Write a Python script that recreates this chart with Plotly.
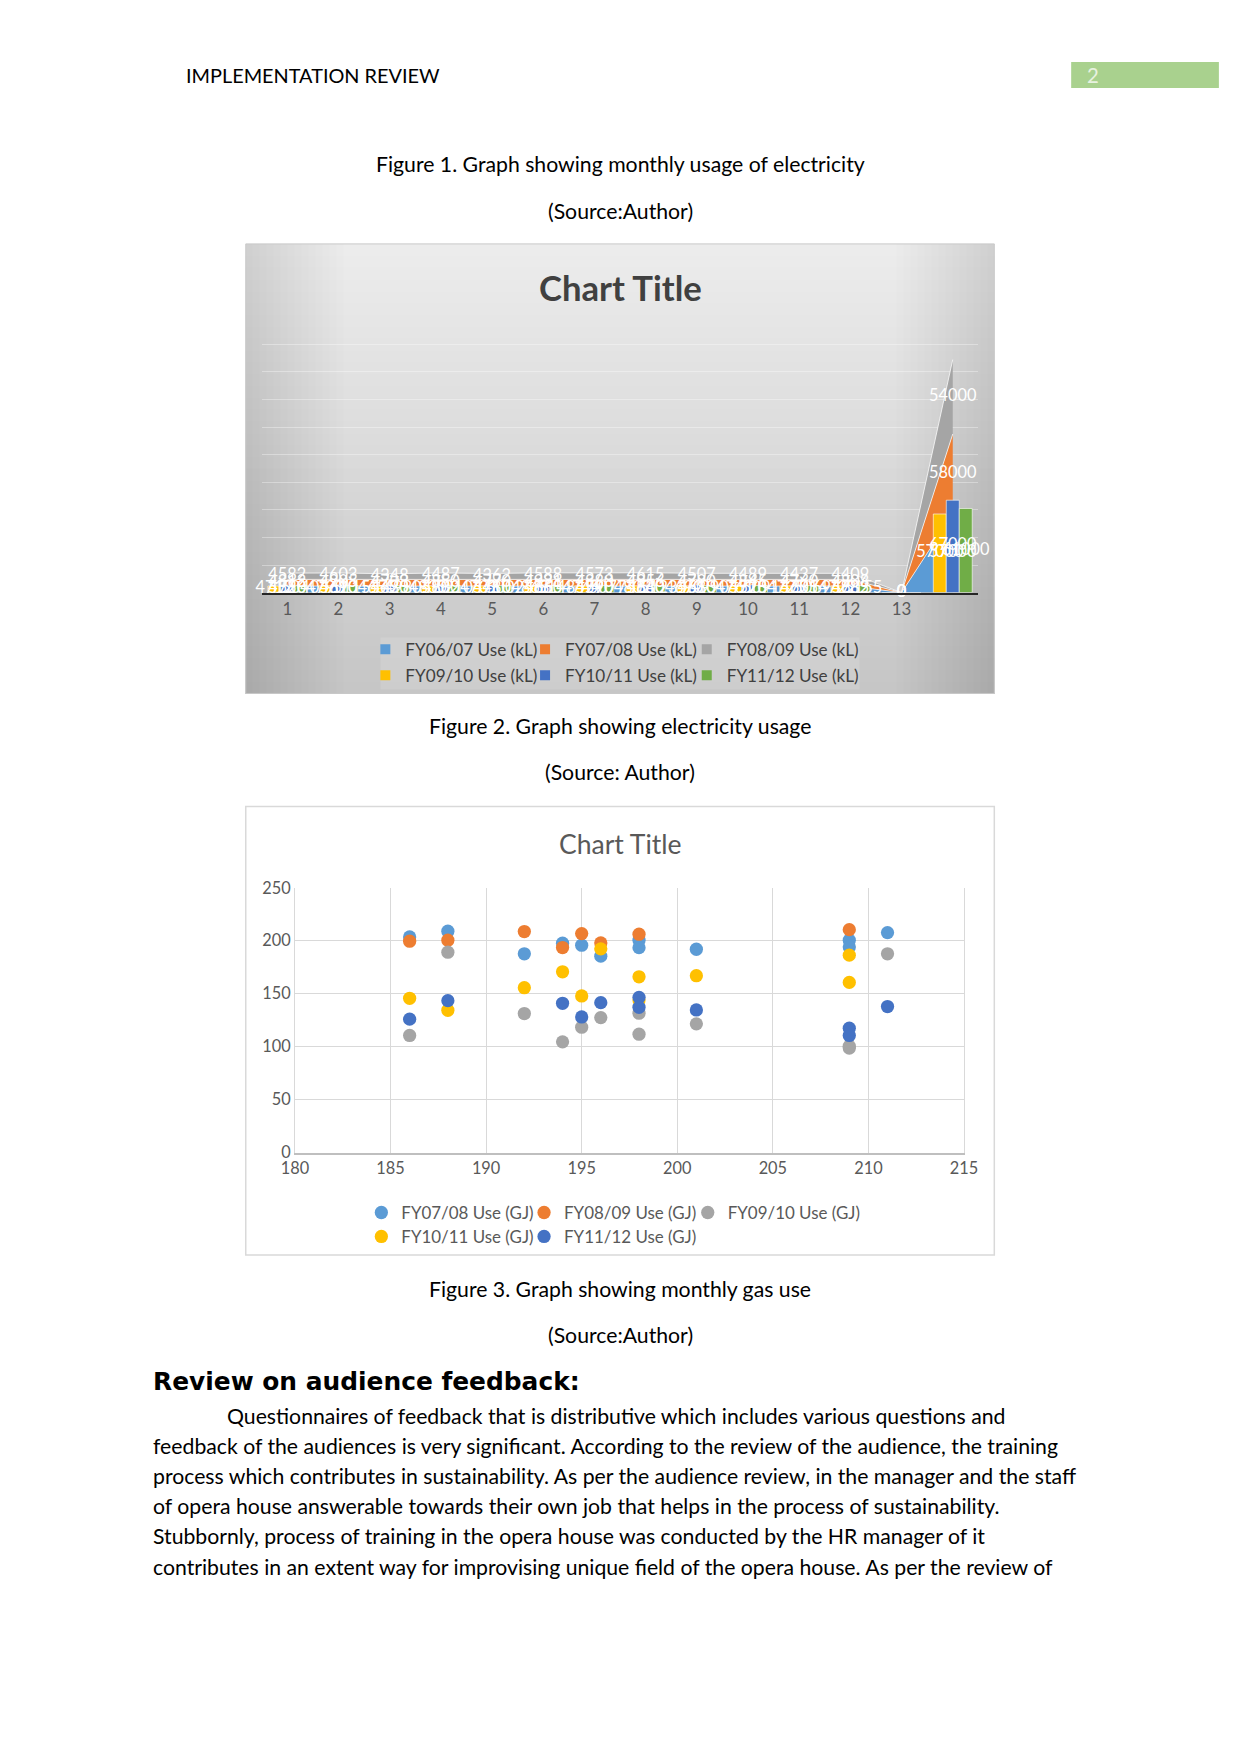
import plotly.graph_objects as go

# page is 1241x1754; the figure sits inside the default 8px body margin
PAGE_W, PAGE_H = 1241, 1754
OFF = 8
W, H = PAGE_W - 2 * OFF, PAGE_H - 2 * OFF
# measured capture mapping (image = a + s * page); positions are pre-compensated
SX, AX = 0.979, 13.0
SY, AY = 0.990, 9.96
FS = 1.02  # size compensation

# ---------------- Figure 2 data: electricity use (kL) ----------------
elec_categories = list(range(1, 15))
elec_tick_labels = ["1", "2", "3", "4", "5", "6", "7", "8", "9", "10", "11", "12", "13", ""]

fy0607_kl = [4750, 4690, 4620, 4880, 4710, 4860, 4790, 4830, 4680, 4720, 4735, 4735, 0, 57000]
fy0708_kl = [4812, 4905, 4703, 4850, 4770, 4921, 4880, 4956, 4790, 4845, 4760, 4808, 0, 58000]
fy0809_kl = [4582, 4603, 4348, 4487, 4362, 4588, 4573, 4615, 4507, 4489, 4437, 4409, 0, 54000]
fy0910_kl = [4712, 4790, 4655, 4830, 4701, 4868, 4744, 4802, 4690, 4761, 4725, 4722, 0, 57000]
fy1011_kl = [5520, 5610, 5435, 5702, 5480, 5655, 5590, 5640, 5510, 5575, 5601, 5682, 0, 67000]
fy1112_kl = [5040, 5115, 4980, 5210, 5002, 5148, 5077, 5123, 4990, 5091, 5069, 5155, 0, 61000]

area_names = ["FY06/07 Use (kL)", "FY07/08 Use (kL)", "FY08/09 Use (kL)"]
bar_names = ["FY09/10 Use (kL)", "FY10/11 Use (kL)", "FY11/12 Use (kL)"]

# ---------------- Figure 3 data: gas use (GJ) ----------------
gas_x = [186, 188, 192, 194, 195, 196, 198, 198, 201, 209, 209, 211]
fy0708_gj = [203.6, 209.0, 187.7, 197.7, 195.8, 185.5, 200.5, 193.5, 192.0, 200.5, 194.2, 207.7]
fy0809_gj = [199.6, 200.5, 208.7, 193.6, 206.8, 198.0, 206.2, None, None, 210.5, None, None]
fy0910_gj = [110.6, 189.2, 131.3, 104.6, 118.4, 127.5, 131.6, 111.8, 121.6, 98.7, 100.5, 187.7]
fy1011_gj = [145.7, 134.4, 155.7, 170.7, 147.9, 192.4, 166.0, 144.1, 167.0, 186.4, 160.7, None]
fy1112_gj = [126.0, 143.5, None, 141.0, 128.1, 141.6, 146.6, 137.2, 134.7, 117.5, 110.6, 137.9]
gas_names = ["FY07/08 Use (GJ)", "FY08/09 Use (GJ)", "FY09/10 Use (GJ)",
             "FY10/11 Use (GJ)", "FY11/12 Use (GJ)"]

# ---------------- styles ----------------
BLUE, ORANGE, GRAY, YELLOW, DBLUE, GREEN = "#5b9bd5", "#ed7d31", "#a5a5a5", "#ffc000", "#4472c4", "#70ad47"
FONT = "Lato"


def px(x):
    return ((x - AX) / SX - OFF) / W


def py(y):
    return 1 - ((y - AY) / SY - OFF) / H


def fs(s):
    return round(s * FS, 2)


fig = go.Figure()

# ---- chart 1: stacked areas (x / y) ----
area_vals = [fy0607_kl, fy0708_kl, fy0809_kl]
for name, vals, col in zip(area_names, area_vals, [BLUE, ORANGE, GRAY]):
    fig.add_trace(go.Scatter(
        x=elec_categories, y=vals, name=name, mode="lines", stackgroup="kl",
        line=dict(color="rgba(255,255,255,0.75)", width=1), fillcolor=col,
        xaxis="x", yaxis="y", showlegend=False, hoverinfo="skip"))

# ---- chart 1: clustered bars (x2 / y2, overlaid so they sit above the areas) ----
bar_vals = [fy0910_kl, fy1011_kl, fy1112_kl]
for name, vals, col in zip(bar_names, bar_vals, [YELLOW, DBLUE, GREEN]):
    fig.add_trace(go.Bar(
        x=elec_categories, y=vals, name=name,
        marker=dict(color=col, line=dict(color="rgba(255,255,255,0.6)", width=1)),
        xaxis="x2", yaxis="y2", showlegend=False, hoverinfo="skip"))

# ---- chart 1 data labels ----
BARGAP = 0.24
bar_w = (1 - BARGAP) / 3
label_font = dict(family=FONT, size=fs(16), color="white")
cum = [0] * len(elec_categories)
for vals in area_vals:
    mids = [c + v / 2 for c, v in zip(cum, vals)]
    fig.add_trace(go.Scatter(
        x=elec_categories, y=mids, text=[str(v) for v in vals], mode="text",
        textfont=label_font, xaxis="x2", yaxis="y2", showlegend=False,
        hoverinfo="skip", cliponaxis=False))
    cum = [c + v for c, v in zip(cum, vals)]
for i, vals in enumerate(bar_vals):
    off = (i - 1) * bar_w
    fig.add_trace(go.Scatter(
        x=[c + off for c in elec_categories], y=[v / 2 for v in vals],
        text=[str(v) if v else "" for v in vals], mode="text",
        textfont=label_font, xaxis="x2", yaxis="y2", showlegend=False,
        hoverinfo="skip", cliponaxis=False))

# ---- legends: one legend box per entry so the 3-column grid matches ----
legend_layout = {}
col_text_1 = [404, 564, 726]
rows_1 = [650, 676]
col_text_2 = [400, 563, 727]
rows_2 = [1214, 1238]
lg = 0


def legend_key(n):
    return "legend" if n == 1 else f"legend{n}"


for j, (name, col) in enumerate(zip(area_names + bar_names, [BLUE, ORANGE, GRAY, YELLOW, DBLUE, GREEN])):
    lg += 1
    key = legend_key(lg)
    fig.add_trace(go.Scatter(
        x=[None], y=[None], name=name, mode="markers",
        marker=dict(symbol="square", size=10, color=col),
        xaxis="x2", yaxis="y2", legend=key))
    legend_layout[key] = dict(x=px(col_text_1[j % 3]) - 40 / W, y=py(rows_1[j // 3]),
                              font=dict(family=FONT, size=fs(16.8), color="#404040"))

# ---- chart 2: scatter ----
gas_vals = [fy0708_gj, fy0809_gj, fy0910_gj, fy1011_gj, fy1112_gj]
for j, (name, vals, col) in enumerate(zip(gas_names, gas_vals, [BLUE, ORANGE, GRAY, YELLOW, DBLUE])):
    lg += 1
    key = legend_key(lg)
    fig.add_trace(go.Scatter(
        x=gas_x, y=vals, name=name, mode="markers",
        marker=dict(symbol="circle", size=fs(13), color=col),
        xaxis="x3", yaxis="y3", legend=key))
    legend_layout[key] = dict(x=px(col_text_2[j % 3]) - 40 / W, y=py(rows_2[j // 3]),
                              font=dict(family=FONT, size=fs(16.6), color="#595959"))

for key, d in legend_layout.items():
    d.update(orientation="h", xanchor="left", yanchor="middle", bgcolor="rgba(0,0,0,0)",
             borderwidth=0, traceorder="normal", itemclick=False, itemdoubleclick=False)

# ---------------- background shapes ----------------
shapes = []
c1x0, c1x1, c1y0, c1y1 = 245, 995, 244, 694
# vertical gradient: nested rects (each runs to the bottom) so no seams appear
nb = 38
for k in range(nb):
    t = k / (nb - 1)
    g = int(round(236 - 38 * t))
    shapes.append(dict(type="rect", xref="paper", yref="paper", layer="below",
                       x0=px(c1x0), x1=px(c1x1), y0=py(c1y1),
                       y1=py(c1y0 + (c1y1 - c1y0) * k / nb),
                       fillcolor=f"rgb({g},{g},{g})", line=dict(width=0)))
# side vignettes: nested translucent strips
ns = 14
w = 7
for k in range(ns):
    for xa0, xa1 in ((c1x0, c1x0 + (k + 1) * w), (c1x1 - (k + 1) * w, c1x1)):
        shapes.append(dict(type="rect", xref="paper", yref="paper", layer="below",
                           x0=px(xa0), x1=px(xa1), y0=py(c1y1), y1=py(c1y0),
                           fillcolor="rgba(0,0,0,0.006)", line=dict(width=0)))
shapes.append(dict(type="rect", xref="paper", yref="paper", layer="below",
                   x0=px(c1x0), x1=px(c1x1), y0=py(c1y1), y1=py(c1y0),
                   fillcolor="rgba(0,0,0,0)", line=dict(color="#c8c8c8", width=1)))
shapes.append(dict(type="rect", xref="paper", yref="paper", layer="below",
                   x0=px(380), x1=px(860), y0=py(690), y1=py(638),
                   fillcolor="rgba(255,255,255,0.13)", line=dict(width=0)))
shapes.append(dict(type="rect", xref="paper", yref="paper", layer="below",
                   x0=px(245), x1=px(995), y0=py(1256), y1=py(807),
                   fillcolor="white", line=dict(color="#d9d9d9", width=1.5)))
shapes.append(dict(type="rect", xref="paper", yref="paper", layer="below",
                   x0=px(1072), x1=px(1220), y0=py(88), y1=py(62),
                   fillcolor="#a9d18e", line=dict(width=0)))

# ---------------- page text ----------------
ann = []
BODY = 20.8


def text(x, y, s, size=BODY, color="#000000", anchor="center", family=FONT, bold=False):
    ann.append(dict(x=px(x), y=py(y), xref="paper", yref="paper", text=(f"<b>{s}</b>" if bold else s),
                    showarrow=False, xanchor=anchor, yanchor="middle", borderpad=0,
                    font=dict(family=family, size=fs(size), color=color)))


text(184, 75, "IMPLEMENTATION REVIEW", size=19.5, anchor="left")
text(1087, 75, "2", size=20, color="#e8f2e0", anchor="left")
text(620, 164, "Figure 1. Graph showing monthly usage of electricity")
text(620, 211, "(Source:Author)")
text(620, 288, "Chart Title", size=34, color="#404040", bold=True)
text(620, 727, "Figure 2. Graph showing electricity usage")
text(620, 773, "(Source: Author)")
text(620, 845, "Chart Title", size=26, color="#595959")
text(620, 1290, "Figure 3. Graph showing monthly gas use")
text(620, 1336, "(Source:Author)")
text(151, 1383, "Review on audience feedback:", size=24.4, family="DejaVu Sans", bold=True, anchor="left")
body = [
    (225, "Questionnaires of feedback that is distributive which includes various questions and"),
    (151, "feedback of the audiences is very significant. According to the review of the audience, the training"),
    (151, "process which contributes in sustainability. As per the audience review, in the manager and the staff"),
    (151, "of opera house answerable towards their own job that helps in the process of sustainability."),
    (151, "Stubbornly, process of training in the opera house was conducted by the HR manager of it"),
    (151, "contributes in an extent way for improvising unique field of the opera house. As per the review of"),
]
for i, (x0, line) in enumerate(body):
    text(x0, 1417 + i * 30.2, line, anchor="left")

# ---------------- axes ----------------
c1_xdom = [px(261), px(979)]
c1_ydom = [py(593), py(317)]
c2_xdom = [px(294.3), px(964.6)]
c2_ydom = [py(1153.6), py(888.5)]

fig.update_layout(
    width=W, height=H, margin=dict(l=0, r=0, t=0, b=0), autosize=False,
    paper_bgcolor="white", plot_bgcolor="rgba(0,0,0,0)",
    barmode="group", bargap=BARGAP, bargroupgap=0,
    shapes=shapes, annotations=ann,
    font=dict(family=FONT),
    xaxis=dict(domain=c1_xdom, range=[0.5, 14.5], anchor="y", tickmode="array",
               tickvals=elec_categories, ticktext=elec_tick_labels, showgrid=False, zeroline=False,
               showline=True, linecolor="#262626", linewidth=2, ticks="",
               tickfont=dict(family=FONT, size=fs(16.5), color="#595959")),
    yaxis=dict(domain=c1_ydom, range=[0, 200000], anchor="x", showticklabels=False, dtick=20000,
               showgrid=True, gridcolor="rgba(255,255,255,0.35)", gridwidth=1, zeroline=False),
    xaxis2=dict(overlaying="x", range=[0.5, 14.5], anchor="y2", visible=False),
    yaxis2=dict(overlaying="y", range=[0, 200000], anchor="x2", visible=False),
    xaxis3=dict(domain=c2_xdom, range=[180, 215], anchor="y3", dtick=5, tick0=180,
                showgrid=True, gridcolor="#d9d9d9", zeroline=False, showline=True,
                linecolor="#bfbfbf", linewidth=1.5, ticks="",
                tickfont=dict(family=FONT, size=fs(16), color="#595959")),
    yaxis3=dict(domain=c2_ydom, range=[0, 250], anchor="x3", dtick=50, tick0=0,
                showgrid=True, gridcolor="#d9d9d9", zeroline=False, showline=True, mirror=True,
                linecolor="#d9d9d9", ticks="",
                tickfont=dict(family=FONT, size=fs(16), color="#595959")),
    **legend_layout,
)

fig.write_html("out.html", config={"displayModeBar": False})
